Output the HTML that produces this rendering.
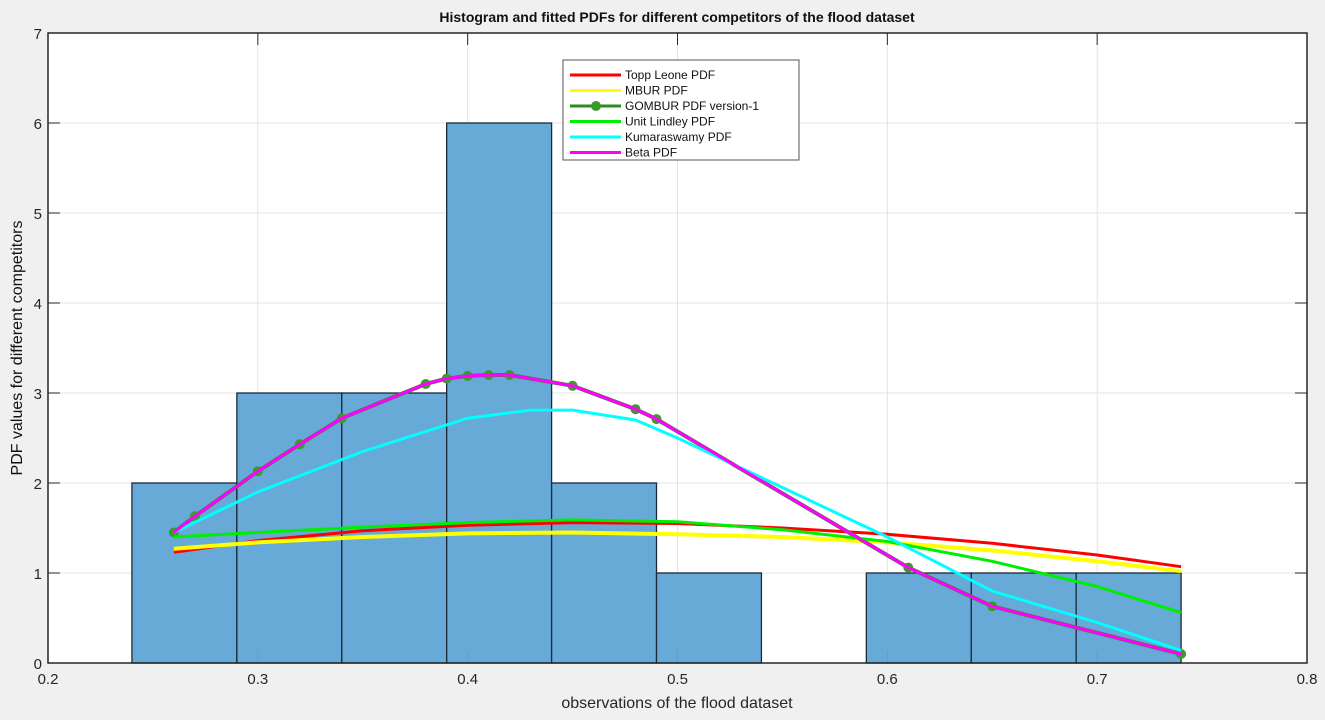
<!DOCTYPE html>
<html><head><meta charset="utf-8"><style>
body{margin:0;background:#f0f0f0;width:1325px;height:715px;overflow:hidden;font-family:"Liberation Sans",sans-serif}
</style></head><body>
<svg id="c" width="1325" height="715" xmlns="http://www.w3.org/2000/svg"></svg>
<script>
const binEdges=[0.24,0.29,0.34,0.39,0.44,0.49,0.54,0.59,0.64,0.69,0.74];
const binCounts=[2,3,3,6,2,1,0,1,1,1];
const xTicks=[0.2,0.3,0.4,0.5,0.6,0.7,0.8];
const yTicks=[0,1,2,3,4,5,6,7];
const gombX=[0.26,0.27,0.30,0.32,0.34,0.38,0.39,0.40,0.41,0.42,0.45,0.48,0.49,0.61,0.65,0.74];
const gombY=[1.45,1.63,2.13,2.43,2.72,3.1,3.16,3.19,3.2,3.2,3.08,2.82,2.71,1.06,0.63,0.1];
const curveX=[0.26,0.30,0.35,0.40,0.45,0.50,0.55,0.60,0.65,0.70,0.74];
const toppY=[1.23,1.36,1.47,1.53,1.56,1.55,1.5,1.43,1.33,1.2,1.07];
const mburY=[1.27,1.34,1.40,1.44,1.45,1.43,1.40,1.34,1.25,1.13,1.02];
const lindY=[1.40,1.45,1.51,1.56,1.59,1.57,1.48,1.35,1.13,0.85,0.56];
const kumaX=[0.26,0.30,0.35,0.40,0.43,0.45,0.48,0.50,0.55,0.60,0.65,0.70,0.74];
const kumaY=[1.45,1.9,2.35,2.72,2.81,2.81,2.7,2.5,1.95,1.4,0.8,0.45,0.14];

const L=48,R=1307,T=33,B=663;
const sx=v=>L+(v-0.2)/0.6*(R-L), sy=v=>B-v/7*(B-T);
const svg=document.getElementById('c');const NS='http://www.w3.org/2000/svg';
function mk(t,a,p){const e=document.createElementNS(NS,t);for(const k in a)e.setAttribute(k,a[k]);(p||svg).appendChild(e);return e;}
const bg=mk('rect',{x:L,y:T,width:R-L,height:B-T,fill:'#fff'});


xTicks.forEach(t=>{const x=sx(t);
 const g=mk('line',{x1:x,x2:x,y1:T,y2:B,stroke:'#e3e3e3'});
 
 
 const tx=mk('text',{x:x,y:B+21,'text-anchor':'middle','font-size':15,fill:'#262626'});tx.textContent=t.toFixed(1);
 
 
 mk('line',{x1:x,x2:x,y1:B,y2:B-12,stroke:'#262626'});mk('line',{x1:x,x2:x,y1:T,y2:T+12,stroke:'#262626'});});
yTicks.forEach(t=>{const y=sy(t);
 const g=mk('line',{x1:L,x2:R,y1:y,y2:y,stroke:'#e3e3e3'});
 
 
 const tx=mk('text',{x:L-6,y:y+6,'text-anchor':'end','font-size':15,fill:'#262626'});tx.textContent=t;
 
 
 mk('line',{x1:L,x2:L+12,y1:y,y2:y,stroke:'#262626'});mk('line',{x1:R,x2:R-12,y1:y,y2:y,stroke:'#262626'});});
binCounts.forEach((c,i)=>{if(!c)return;const x0=sx(binEdges[i]),x1=sx(binEdges[i+1]);
 const r=mk('rect',{x:x0,y:sy(c),width:x1-x0,height:sy(0)-sy(c),fill:'#5fa5d6','fill-opacity':0.95,stroke:'#1a2a3a','stroke-width':1.3});
 
 });
function line(xs,ys,col,w,name){const p=mk('polyline',{points:xs.map((x,i)=>sx(x)+','+sy(ys[i])).join(' '),fill:'none',stroke:col,'stroke-width':w,'stroke-linejoin':'round'});
 
 }
line(curveX,toppY,'#ff0000',3,'topp-leone-line');
line(curveX,mburY,'#ffff00',4,'mbur-line');
line(gombX,gombY,'#2e8b22',4,'gombur-line');
gombX.forEach((x,i)=>{const c=mk('circle',{cx:sx(x),cy:sy(gombY[i]),r:5,fill:'#3a9a2a'});
 
 });
line(curveX,lindY,'#00ee00',3,'unit-lindley-line');
line(kumaX,kumaY,'#00ffff',3,'kumaraswamy-line');
line(gombX,gombY,'#ff00ff',3,'beta-line');
const fr=mk('rect',{x:L,y:T,width:R-L,height:B-T,fill:'none',stroke:'#262626','stroke-width':1.5});


// legend
const lg=mk('g',{});
mk('rect',{x:563,y:60,width:236,height:100,fill:'#fff',stroke:'#555'},lg);
const names=['Topp Leone PDF','MBUR PDF',' GOMBUR PDF version-1','Unit Lindley PDF','Kumaraswamy PDF','Beta PDF'];
const cols=['#ff0000','#ffff00','#2e8b22','#00ee00','#00ffff','#ff00ff'];
names.forEach((n,i)=>{const y=75+i*15.5;
 mk('line',{x1:570,x2:621,y1:y,y2:y,stroke:cols[i],'stroke-width':3},lg);
 if(i==2)mk('circle',{cx:596,cy:y,r:5,fill:'#3a9a2a'},lg);
 const t=mk('text',{x:625,y:y+4,'font-size':12,fill:'#111'},lg);t.textContent=n;
 
 });
const ti=mk('text',{x:677,y:22,'text-anchor':'middle','font-size':14,'font-weight':'bold',fill:'#111'});ti.textContent='Histogram and fitted PDFs for different competitors of the flood dataset';


const xl=mk('text',{x:677,y:708,'text-anchor':'middle','font-size':16,fill:'#262626'});xl.textContent='observations of the flood dataset';


const yl=mk('text',{x:0,y:0,'text-anchor':'middle','font-size':16,fill:'#111',transform:'translate(22,348) rotate(-90)'});yl.textContent='PDF values for different competitors';


</script>
</body></html>
